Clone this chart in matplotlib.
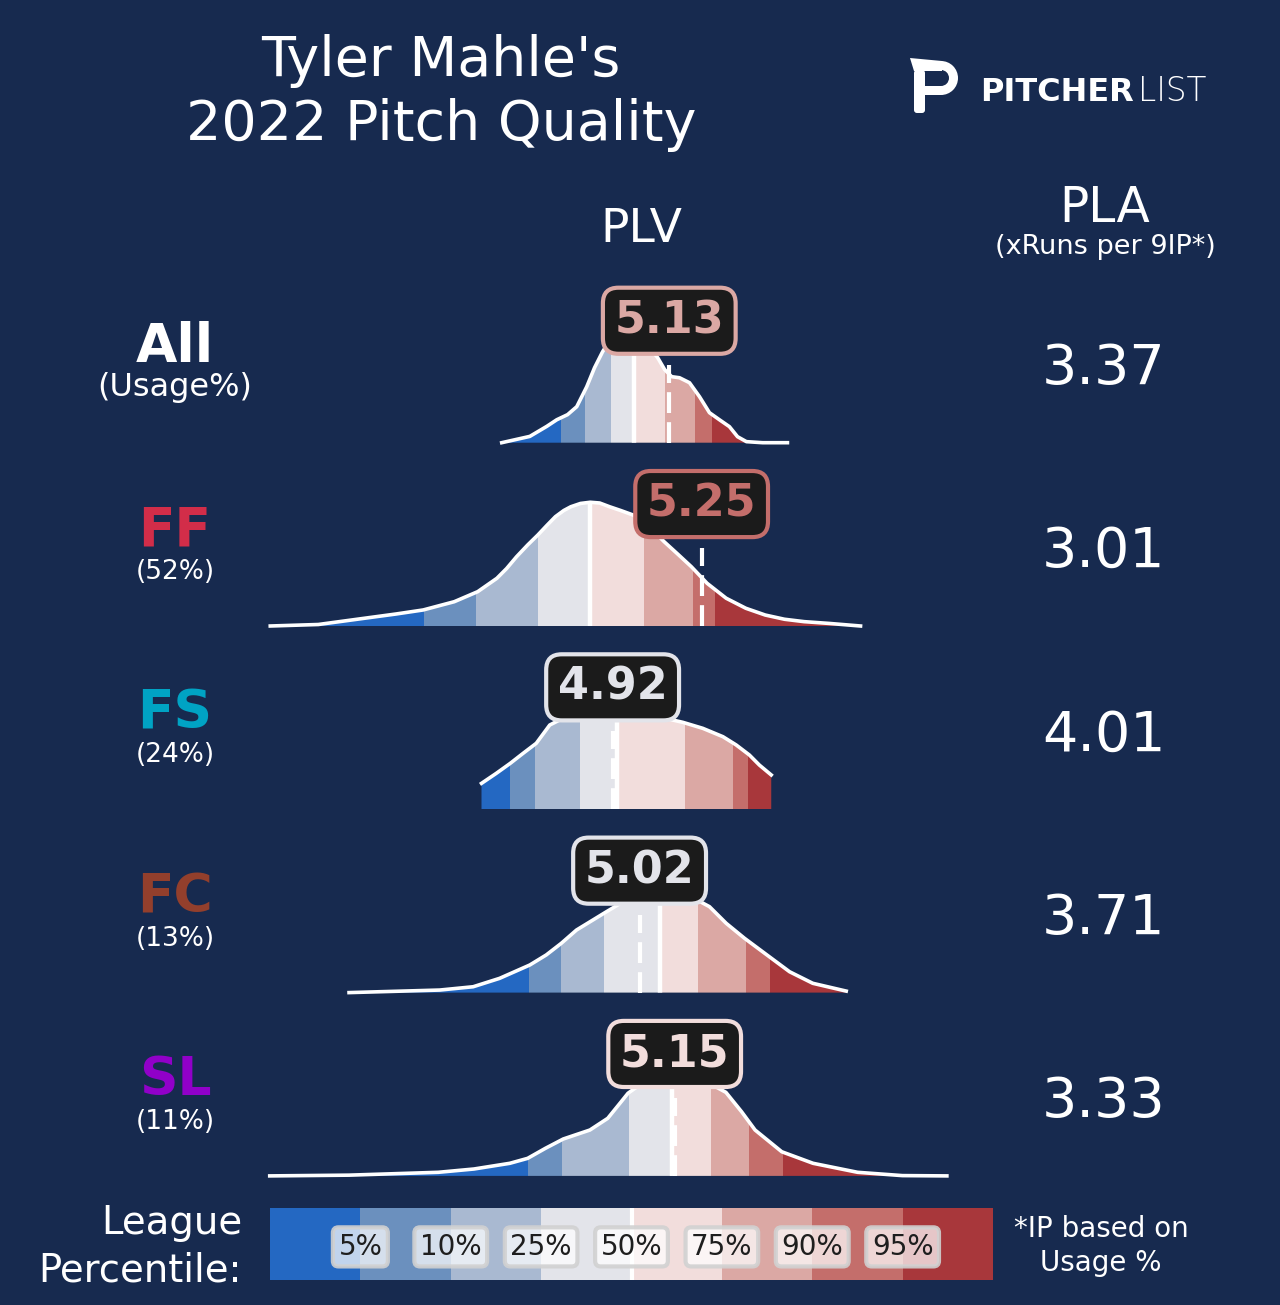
import numpy as np
import matplotlib
matplotlib.use('Agg')
import matplotlib.pyplot as plt
from matplotlib.patches import Polygon, Rectangle, Wedge, FancyBboxPatch

plt.rcParams['font.family'] = ['DejaVu Sans']

# 画布尺寸(像素)
W, H = 1280, 1305
bg = '#172a4f'

# 数据
pitches = ['All', 'FF', 'FS', 'FC', 'SL']
usage = ['(Usage%)', '(52%)', '(24%)', '(13%)', '(11%)']
pitch_colors = ['#ffffff', '#d22d49', '#00a3c4', '#933f2c', '#9100c9']
plv = [5.13, 5.25, 4.92, 5.02, 5.15]
pla = [3.37, 3.01, 4.01, 3.71, 3.33]

pct_labels = ['5%', '10%', '25%', '50%', '75%', '90%', '95%']
band_colors = ['#2468c2', '#6b90be', '#a9b9d1', '#e3e4ea',
               '#f2dddc', '#dba8a4', '#c46e6b', '#a8373b']

# league percentile cut points (5,10,25,50,75,90,95)
pctl_all = [4.727, 4.816, 4.913, 4.998, 5.113, 5.224, 5.290]
pctl_ff = [4.221, 4.415, 4.643, 4.837, 5.036, 5.219, 5.299]
pctl_fs = [4.541, 4.634, 4.800, 4.936, 5.187, 5.368, 5.421]
pctl_fc = [4.610, 4.730, 4.887, 5.097, 5.236, 5.413, 5.504]
pctl_sl = [4.605, 4.732, 4.981, 5.140, 5.286, 5.426, 5.550]

# league PLV density curves
all_x = [4.509, 4.613, 4.676, 4.713, 4.753, 4.787, 4.824, 4.853, 4.883, 4.916, 4.953, 4.990, 5.027,
         5.057, 5.087, 5.113, 5.139, 5.168, 5.205, 5.242, 5.279, 5.316, 5.353, 5.383, 5.416, 5.476, 5.568]
all_d = [0.0, 0.042, 0.109, 0.153, 0.187, 0.240, 0.373, 0.500, 0.607, 0.700, 0.753, 0.753, 0.700,
         0.633, 0.567, 0.487, 0.440, 0.433, 0.400, 0.307, 0.200, 0.153, 0.107, 0.040, 0.007, 0.0, 0.0]

ff_x = [3.651, 3.829, 3.973, 4.117, 4.218, 4.333, 4.420, 4.491, 4.527, 4.564, 4.605, 4.643,
        4.676, 4.708, 4.739, 4.765, 4.801, 4.837, 4.872, 4.909, 4.950, 4.996, 5.057, 5.111,
        5.161, 5.212, 5.270, 5.341, 5.414, 5.486, 5.557, 5.630, 5.724, 5.839]
ff_d = [0.0, 0.010, 0.045, 0.080, 0.107, 0.162, 0.229, 0.318, 0.383, 0.462, 0.540, 0.607,
        0.670, 0.729, 0.770, 0.795, 0.817, 0.825, 0.820, 0.795, 0.770, 0.740, 0.660, 0.562,
        0.480, 0.395, 0.285, 0.185, 0.118, 0.073, 0.045, 0.029, 0.017, 0.0]

fs_x = [4.434, 4.489, 4.541, 4.588, 4.637, 4.687, 4.761, 4.872, 4.983,
        5.094, 5.180, 5.254, 5.329, 5.378, 5.427, 5.464, 5.508]
fs_d = [0.173, 0.240, 0.307, 0.373, 0.440, 0.562, 0.629, 0.662, 0.649,
        0.615, 0.580, 0.540, 0.484, 0.429, 0.362, 0.295, 0.229]

fc_x = [3.943, 4.279, 4.403, 4.501, 4.613, 4.674, 4.730, 4.786, 4.847, 4.897,
        4.983, 5.094, 5.205, 5.279, 5.341, 5.409, 5.501, 5.576, 5.662, 5.786]
fc_d = [0.0, 0.017, 0.039, 0.095, 0.184, 0.251, 0.329, 0.417, 0.484, 0.539,
        0.631, 0.664, 0.644, 0.573, 0.462, 0.362, 0.239, 0.139, 0.062, 0.010]

sl_x = [3.649, 3.943, 4.274, 4.406, 4.539, 4.605, 4.671, 4.737, 4.836, 4.902, 4.952, 4.977,
        5.057, 5.150, 5.242, 5.340, 5.398, 5.448, 5.547, 5.663, 5.828, 5.994, 6.159]
sl_d = [0.0, 0.005, 0.024, 0.046, 0.084, 0.117, 0.184, 0.246, 0.306, 0.384, 0.495, 0.551,
        0.653, 0.679, 0.653, 0.557, 0.428, 0.306, 0.161, 0.084, 0.024, 0.002, 0.0]

curves = [(all_x, all_d, pctl_all), (ff_x, ff_d, pctl_ff), (fs_x, fs_d, pctl_fs),
          (fc_x, fc_d, pctl_fc), (sl_x, sl_d, pctl_sl)]

XMIN, XMAX = 3.65, 6.33

fig = plt.figure(figsize=(W / 100, H / 100), dpi=100, facecolor=bg)

# 整张图的像素坐标层, 放文字和logo
ov = fig.add_axes([0, 0, 1, 1])
ov.set_xlim(0, W)
ov.set_ylim(H, 0)
ov.axis('off')

ov.text(441, 33.5, "Tyler Mahle's\n2022 Pitch Quality", ha='center', va='top',
        fontsize=40, color='white', linespacing=1.25)
ov.text(641, 242, 'PLV', ha='center', va='baseline', fontsize=34, color='white')
ov.text(1105, 222, 'PLA', ha='center', va='baseline', fontsize=35, color='white')
ov.text(1105, 254, '(xRuns per 9IP*)', ha='center', va='baseline', fontsize=19.5, color='white')

# logo
ov.add_patch(FancyBboxPatch((914, 70), 11, 43, boxstyle='round,pad=0,rounding_size=3',
                            fc='white', ec='none'))
ov.add_patch(Polygon([(910, 58), (942, 61), (942, 71), (914, 71)], closed=True, fc='white', ec='none'))
ov.add_patch(Wedge((941, 78), 17, -90, 90, width=9, fc='white', ec='none'))
ov.add_patch(Rectangle((924, 86), 17, 9, fc='white', ec='none'))
ov.text(980, 101, 'PITCHER', ha='left', va='baseline', fontsize=23, fontweight='bold', color='white')
ov.text(1138, 101, 'LIST', ha='left', va='baseline', fontsize=23.5, fontweight='light', color='white')


def draw_row(i, xs, ds, pctl, value):
    base = 442.7 + 183.3 * i
    ax = fig.add_axes([270 / W, 1 - base / H, 723 / W, 180 / H])
    ax.set_xlim(XMIN, XMAX)
    ax.set_ylim(0, 1.2)
    ax.axis('off')

    verts = list(zip(xs, ds)) + [(xs[-1], 0), (xs[0], 0)]
    shape = Polygon(verts, closed=True, fc='none', lw=0)
    ax.add_patch(shape)

    # 按联盟分位数分段上色
    edges = [XMIN] + list(pctl) + [XMAX]
    for k in range(8):
        span = ax.axvspan(edges[k], edges[k + 1], color=band_colors[k], lw=0, zorder=1)
        span.set_clip_path(shape)
    med = ax.axvline(pctl[3], color='white', lw=3.2, zorder=2)
    med.set_clip_path(shape)
    ax.plot(xs, ds, color='white', lw=2.6, zorder=3, clip_on=False,
            solid_joinstyle='round')

    # 投手自己的PLV
    ax.vlines(value, 0, 0.52, color='white', lw=3, linestyles=[(0, (5, 2.2))], zorder=4)
    c = band_colors[np.searchsorted(pctl, value)]
    ax.text(value, 0.813, f'{value:.2f}', ha='center', va='center', fontsize=32,
            fontweight='bold', color=c, zorder=6, clip_on=False,
            bbox=dict(boxstyle='round,pad=0.26,rounding_size=0.35', fc='#1b1b1b', ec=c, lw=3))

    # 左侧球种 / 右侧PLA
    ov.text(175, base - 80.5, pitches[i], ha='center', va='baseline', fontsize=38.5,
            fontweight='bold', color=pitch_colors[i])
    ov.text(175, base - 47, usage[i], ha='center', va='baseline',
            fontsize=23 if i == 0 else 19, color='white')
    ov.text(1104, base - 59, f'{pla[i]:.2f}', ha='center', va='baseline', fontsize=40, color='white')


for i, (xs, ds, pctl) in enumerate(curves):
    draw_row(i, xs, ds, pctl, plv[i])

# 图例色条
leg = fig.add_axes([270 / W, 1 - 1280 / H, 723 / W, 72 / H])
leg.bar(np.arange(8), 1, width=1.0, color=band_colors, lw=0)
leg.axvline(3.5, color='white', lw=3)
leg.set_xlim(-0.5, 7.5)
leg.set_ylim(0, 1)
leg.axis('off')
for k, lab in enumerate(pct_labels):
    leg.text(k + 0.5, 0.46, lab, ha='center', va='center', fontsize=20, color='#1e1e1e',
             bbox=dict(boxstyle='round,pad=0.2', fc=(1, 1, 1, 0.72), ec=(0.82, 0.82, 0.82, 0.9), lw=3))

ov.text(242, 1204.5, 'League\nPercentile:', ha='right', va='top', fontsize=27.8,
        color='white', linespacing=1.31, multialignment='right')
ov.text(1101, 1215, '*IP based on\nUsage %', ha='center', va='top', fontsize=20,
        color='white', linespacing=1.28, multialignment='center')

fig.savefig('out.png', dpi=100, facecolor=bg)
